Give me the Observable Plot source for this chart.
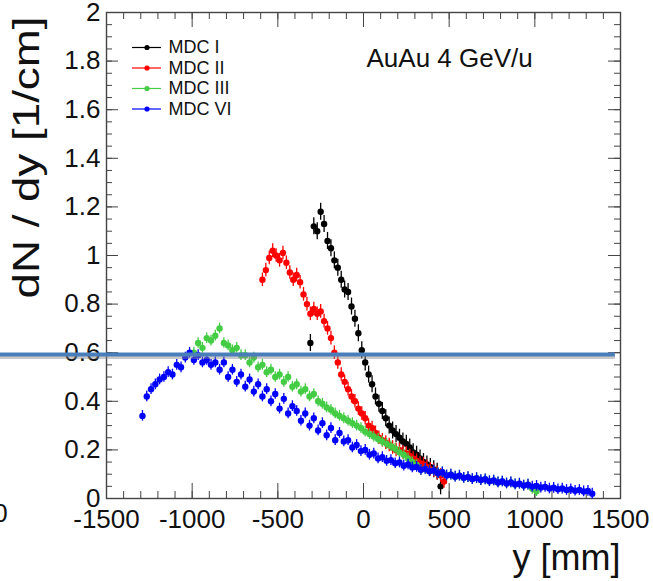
<!DOCTYPE html>
<html><head><meta charset="utf-8">
<script src="https://cdn.jsdelivr.net/npm/d3@7"></script>
<script src="https://cdn.jsdelivr.net/npm/@observablehq/plot@0.6"></script>
<style>html,body{margin:0;padding:0;background:#fff;overflow:hidden}#chart{width:653px;height:581px;position:relative}</style>
</head><body><div id="chart"></div>
<script>
// ---- data ----
const seriesNames = ["MDC I", "MDC II", "MDC III", "MDC VI"];
const seriesColors = ["#000000", "#ff0000", "#44cc44", "#0000ff"];
const binStart = [-310, -590, -990, -1290];
const binWidth = [20, 20, 25, 25];
const seriesErr = [0.035, 0.028, 0.022, 0.022];

const mdc1 = [0.64, 1.12, 1.10, 1.18, 1.13, 1.06, 1.03, 0.98, 0.95, 0.90, 0.86, 0.85, 0.79, 0.74, 0.68, 0.61,
  0.56, 0.51, 0.47, 0.42, 0.39, 0.36, 0.33, 0.30, 0.28, 0.265, 0.25, 0.235, 0.225, 0.21, 0.19, 0.18, 0.165,
  0.15, 0.14, 0.13, 0.12, 0.11, 0.05];
const mdc2 = [0.90, 0.94, 0.99, 1.02, 1.00, 0.98, 1.01, 0.97, 0.93, 0.90, 0.92, 0.89, 0.84, 0.80, 0.76, 0.78,
  0.76, 0.77, 0.73, 0.70, 0.66, 0.60, 0.56, 0.51, 0.48, 0.45, 0.42, 0.40, 0.37, 0.35, 0.33, 0.30, 0.29, 0.27,
  0.25, 0.24, 0.23, 0.22, 0.21, 0.20, 0.20, 0.19, 0.185, 0.175, 0.165, 0.155, 0.145, 0.14, 0.13, 0.12, 0.115,
  0.105, 0.095, 0.07];
const mdc3 = [0.60, 0.64, 0.62, 0.66, 0.65, 0.67, 0.70, 0.64, 0.63, 0.61, 0.62, 0.59, 0.59, 0.56, 0.58, 0.54,
  0.55, 0.52, 0.53, 0.50, 0.51, 0.48, 0.50, 0.46, 0.47, 0.44, 0.45, 0.42, 0.43, 0.40, 0.39, 0.375, 0.365,
  0.35, 0.34, 0.33, 0.32, 0.31, 0.30, 0.29, 0.275, 0.265, 0.255, 0.245, 0.235, 0.225, 0.215, 0.205, 0.19,
  0.18, 0.165, 0.15, 0.138, 0.118, 0.122, 0.112, 0.115, 0.104, 0.108, 0.095, 0.098, 0.09, 0.094, 0.085, 0.088,
  0.08, 0.084, 0.076, 0.079, 0.071, 0.074, 0.066, 0.07, 0.062, 0.066, 0.058, 0.061, 0.053, 0.057, 0.04, 0.03];
const mdc6 = [0.34, 0.42, 0.45, 0.47, 0.49, 0.50, 0.52, 0.51, 0.55, 0.54, 0.58, 0.60, 0.57, 0.59, 0.56, 0.57,
  0.55, 0.56, 0.53, 0.56, 0.50, 0.53, 0.48, 0.51, 0.46, 0.49, 0.44, 0.47, 0.42, 0.45, 0.40, 0.43, 0.37, 0.41,
  0.35, 0.38, 0.36, 0.32, 0.35, 0.30, 0.33, 0.28, 0.31, 0.26, 0.29, 0.24, 0.27, 0.235, 0.24, 0.21, 0.22, 0.195,
  0.20, 0.18, 0.185, 0.165, 0.17, 0.155, 0.158, 0.145, 0.148, 0.135, 0.14, 0.128, 0.13, 0.118, 0.122, 0.112,
  0.115, 0.104, 0.108, 0.095, 0.098, 0.09, 0.094, 0.085, 0.088, 0.08, 0.084, 0.076, 0.079, 0.071, 0.074, 0.066,
  0.07, 0.062, 0.066, 0.058, 0.061, 0.053, 0.057, 0.049, 0.052, 0.045, 0.048, 0.041, 0.044, 0.038, 0.041, 0.035,
  0.038, 0.032, 0.035, 0.029, 0.031, 0.02];
const seriesValues = [mdc1, mdc2, mdc3, mdc6];

const xMajorTicks = [-1500, -1000, -500, 0, 500, 1000, 1500];
const xMinorTicks = d3.range(-1500, 1501, 100);
const yMajorTicks = [0, 0.2, 0.4, 0.6, 0.8, 1, 1.2, 1.4, 1.6, 1.8, 2];
const yMinorTicks = d3.range(0, 2.001, 0.05);

const annotationText = ["AuAu 4 GeV/u"];
const xTitle = ["y [mm]"];
const yTitle = ["dN / dy [1/cm]"];
const markerLineY = [0.593];
const markerLineX = [-2120, 1470];

// ---- layout ----
const W = 653, H = 581;
const mL = 106, mR = 33, mT = 12, mB = 83;
const fw = W - mL - mR, fh = H - mT - mB;
const font = "'Liberation Sans', Arial, sans-serif";
// pixel -> data helpers for legend placement
const px2x = d3.scaleLinear([mL, W - mR], [-1500, 1500]);
const px2y = d3.scaleLinear([H - mB, mT], [0, 2]);

const points = seriesValues.flatMap((vals, s) => vals.map((v, i) => ({
  s, x: binStart[s] + i * binWidth[s], y: v, e: seriesErr[s], hw: binWidth[s] / 2
})));

const seriesMarks = [0, 1, 2, 3].flatMap(s => {
  const d = points.filter(p => p.s === s);
  const c = seriesColors[s];
  return [
    Plot.ruleX(d, {x: "x", y1: p => p.y - p.e, y2: p => p.y + p.e, stroke: c, strokeWidth: 1.3}),
    Plot.ruleY(d, {y: "y", x1: p => p.x - p.hw, x2: p => p.x + p.hw, stroke: c, strokeWidth: 1.3}),
    Plot.dot(d, {x: "x", y: "y", r: 3.2, fill: c, stroke: null})
  ];
});

const legendRows = seriesNames.map((name, i) => ({
  name, color: seriesColors[i], y: px2y(47 + i * 20.5)
}));
const legendMarks = [
  Plot.ruleY(legendRows, {y: "y", x1: px2x(132), x2: px2x(161), stroke: "color", strokeWidth: 1.2}),
  Plot.dot(legendRows, {x: px2x(146.5), y: "y", r: 2.6, fill: "color", stroke: null}),
  Plot.text(legendRows, {x: px2x(168), y: "y", text: "name", textAnchor: "start", lineAnchor: "middle", fontSize: 18, fill: "#111"})
];

const chart = Plot.plot({
  width: W, height: H,
  marginLeft: mL, marginRight: mR, marginTop: mT, marginBottom: mB,
  x: {domain: [-1500, 1500], axis: null},
  y: {domain: [0, 2], axis: null},
  color: {type: "identity"},
  style: {fontFamily: font, background: "#fff", color: "#000"},
  marks: [
    // ticks (inward, mirrored)
    Plot.tickX(xMinorTicks, {x: d => d, insetTop: fh - 7, stroke: "#444"}),
    Plot.tickX(xMajorTicks, {x: d => d, insetTop: fh - 15, stroke: "#444"}),
    Plot.tickX(xMinorTicks, {x: d => d, insetBottom: fh - 7, stroke: "#444"}),
    Plot.tickX(xMajorTicks, {x: d => d, insetBottom: fh - 15, stroke: "#444"}),
    Plot.tickY(yMinorTicks, {y: d => d, insetRight: fw - 6, stroke: "#444"}),
    Plot.tickY(yMajorTicks, {y: d => d, insetRight: fw - 12, stroke: "#444"}),
    Plot.tickY(yMinorTicks, {y: d => d, insetLeft: fw - 6, stroke: "#444"}),
    Plot.tickY(yMajorTicks, {y: d => d, insetLeft: fw - 12, stroke: "#444"}),
    Plot.frame({stroke: "#444", strokeWidth: 1.4}),
    // data
    ...seriesMarks,
    // legend
    ...legendMarks,
    // texts
    Plot.text(annotationText, {frameAnchor: "top-left", dx: 260, dy: 46, textAnchor: "start", lineAnchor: "middle", fontSize: 26, fill: "#111"}),
    Plot.text(xMajorTicks, {x: d => d, frameAnchor: "bottom", lineAnchor: "top", dy: 11, text: d => String(d), fontSize: 26, fill: "#111"}),
    Plot.text(yMajorTicks, {y: d => d, frameAnchor: "left", textAnchor: "end", lineAnchor: "middle", dx: -6, text: d => String(+d.toFixed(1)), fontSize: 26, fill: "#111"}),
    Plot.text(xTitle, {frameAnchor: "bottom-right", textAnchor: "end", lineAnchor: "middle", dy: 60, fontSize: 36, fill: "#111"}),
    Plot.text(yTitle, {frameAnchor: "top-left", rotate: -90, textAnchor: "middle", lineAnchor: "middle", dx: -79, dy: 145, fontSize: 36, fill: "#111"}),
    Plot.text(["0"], {frameAnchor: "bottom-left", textAnchor: "middle", lineAnchor: "middle", dx: -106, dy: 15, fontSize: 26, fill: "#111"}),
    // overlay annotation line with shadow
    Plot.ruleY(markerLineY, {x1: markerLineX[0], x2: markerLineX[1], stroke: "#888", strokeOpacity: 0.45, strokeWidth: 4, dy: 2.5}),
    Plot.ruleY(markerLineY, {x1: markerLineX[0], x2: markerLineX[1], stroke: "#4a7ebb", strokeWidth: 4})
  ]
});
// stretch the y-axis title along its length like the reference
d3.select(chart).selectAll("text").filter(function () { return this.textContent === yTitle[0]; })
  .attr("textLength", 282).attr("lengthAdjust", "spacingAndGlyphs");
document.getElementById("chart").appendChild(chart);
</script>
</body></html>
